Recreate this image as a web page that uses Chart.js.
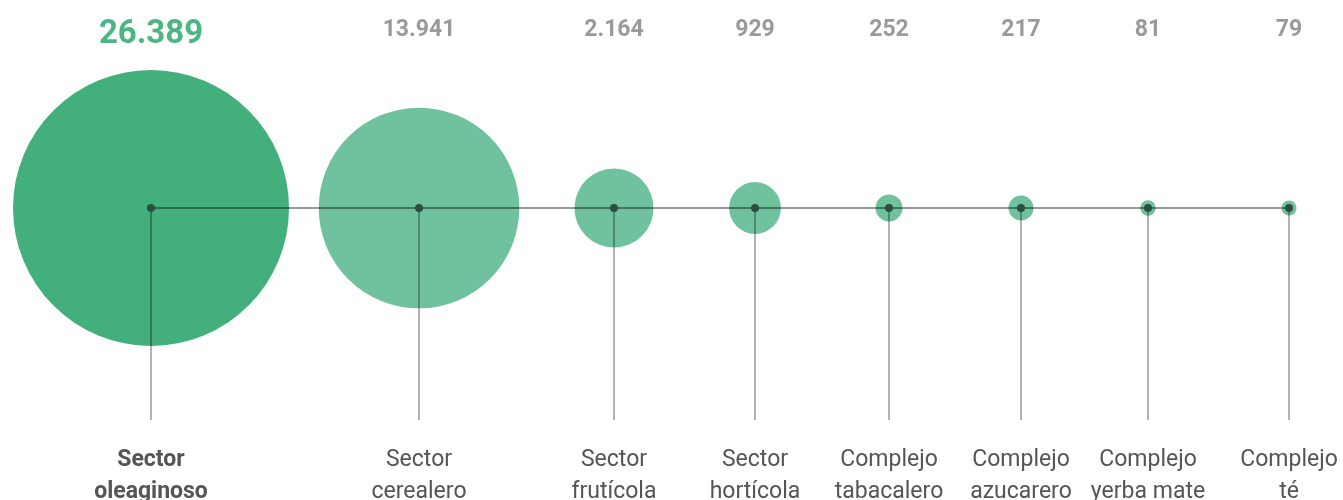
<!DOCTYPE html>
<html>
<head>
<meta charset="utf-8">
<script src="https://cdn.jsdelivr.net/npm/chart.js@4/dist/chart.umd.min.js"></script>
<style>
  html, body { margin: 0; padding: 0; background: #fff; }
  #wrap { width: 1343px; height: 500px; }
</style>
</head>
<body>
<div id="wrap"><canvas id="chart" width="1343" height="500"></canvas></div>
<script>
// datos
const sectores = [
    ['Sector', 'oleaginoso'],
    ['Sector', 'cerealero'],
    ['Sector', 'frutícola'],
    ['Sector', 'hortícola'],
    ['Complejo', 'tabacalero'],
    ['Complejo', 'azucarero'],
    ['Complejo', 'yerba mate'],
    ['Complejo', 'té']
];
const valores = [26389, 13941, 2164, 929, 252, 217, 81, 79];

// layout (posiciones horizontales en unidades del eje x)
const posicionX = [151, 419, 614, 755, 889, 1021, 1148, 1289];
const RADIO_MAX = 138;
const maxValor = Math.max(...valores);

function radio(v) {
    // area proporcional al valor
    return RADIO_MAX * Math.sqrt(v / maxValor);
}

function formatear(v) {
    return String(v).replace(/\B(?=(\d{3})+(?!\d))/g, '.');
}

const burbujas = valores.map((v, i) => ({ x: posicionX[i], y: 0, r: radio(v) }));
const centros = valores.map((v, i) => ({ x: posicionX[i], y: 0 }));

const lineaGris = 'rgba(0,0,0,0.4)';

const datasets = [];

datasets.push({
    type: 'scatter',
    data: centros,
    pointRadius: 4,
    pointBackgroundColor: '#2b4f3f',
    pointBorderWidth: 0,
    clip: false,
    order: 1
});

datasets.push({
    type: 'line',
    data: centros,
    borderColor: lineaGris,
    borderWidth: 2,
    pointRadius: 0,
    fill: false,
    clip: false,
    order: 2
});

// lineas verticales
centros.forEach(c => {
    datasets.push({
        type: 'line',
        data: [{ x: c.x, y: 0 }, { x: c.x, y: -1 }],
        borderColor: lineaGris,
        borderWidth: 1.5,
        pointRadius: 0,
        fill: false,
        clip: false,
        order: 2
    });
});

datasets.push({
    type: 'bubble',
    data: burbujas,
    backgroundColor: valores.map((v, i) => i === 0 ? '#42af7c' : '#70c29e'),
    borderWidth: 0,
    hoverRadius: 0,
    clip: false,
    order: 3
});

const etiquetas = {
    id: 'etiquetas',
    afterDraw(chart) {
        const ctx = chart.ctx;
        const xs = chart.scales.x;
        ctx.save();
        ctx.textAlign = 'center';
        ctx.textBaseline = 'alphabetic';
        valores.forEach((v, i) => {
            const x = xs.getPixelForValue(posicionX[i]);
            if (i === 0) {
                ctx.font = 'bold 33px Roboto';
                ctx.fillStyle = '#4cb683';
                ctx.fillText(formatear(v), x, 43);
            } else {
                ctx.font = 'bold 23px Roboto';
                ctx.fillStyle = '#9a9a9a';
                ctx.fillText(formatear(v), x, 36);
            }
            ctx.font = (i === 0 ? 'bold ' : '') + '23px Roboto';
            ctx.fillStyle = '#555555';
            ctx.fillText(sectores[i][0], x, 466);
            ctx.fillText(sectores[i][1], x, 498);
        });
        ctx.restore();
    }
};

new Chart(document.getElementById('chart').getContext('2d'), {
    type: 'bubble',
    data: { datasets: datasets },
    options: {
        responsive: false,
        animation: false,
        events: [],
        layout: { padding: 0, autoPadding: false },
        plugins: {
            legend: { display: false },
            tooltip: { enabled: false }
        },
        scales: {
            x: { type: 'linear', min: 0, max: 1343, display: false },
            y: { type: 'linear', min: -1.377, max: 0.981, display: false }
        }
    },
    plugins: [etiquetas]
});
</script>
</body>
</html>
